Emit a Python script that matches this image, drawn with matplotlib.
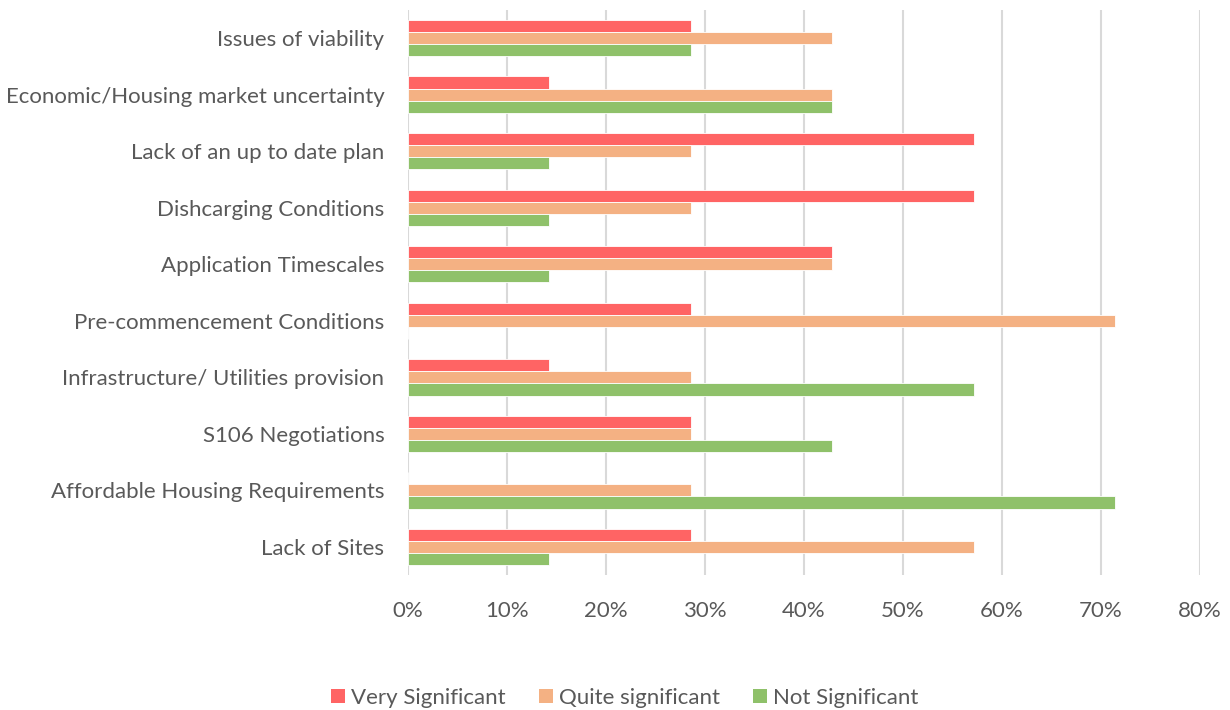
import matplotlib
matplotlib.use("Agg")
import matplotlib.pyplot as plt
import numpy as np
from matplotlib.ticker import PercentFormatter

categories = ["Issues of viability", "Economic/Housing market uncertainty",
              "Lack of an up to date plan", "Dishcarging Conditions",
              "Application Timescales", "Pre-commencement Conditions",
              "Infrastructure/ Utilities provision", "S106 Negotiations",
              "Affordable Housing Requirements", "Lack of Sites"]
very = [28.57, 14.29, 57.14, 57.14, 42.86, 28.57, 14.29, 28.57, 0, 28.57]
quite = [42.86, 42.86, 28.57, 28.57, 42.86, 71.43, 28.57, 28.57, 28.57, 57.14]
notsig = [28.57, 42.86, 14.29, 14.29, 14.29, 0, 57.14, 42.86, 71.43, 14.29]
series_names = ["Very Significant", "Quite significant", "Not Significant"]
colors = ["#FF6464", "#F4B183", "#8FC16A"]

plt.rcParams['font.family'] = ['Lato', 'DejaVu Sans']
grey = "#595959"

fig = plt.figure(figsize=(12.3, 7.1), dpi=100)
ax = fig.add_axes([0.3317, 0.190, 0.644, 0.796])

n = len(categories)
pos = np.arange(n)[::-1]
h = 0.215
for i, (vals, c, name) in enumerate(zip([very, quite, notsig], colors, series_names)):
    ax.barh(pos + (1 - i) * h, vals, height=h, color=c, label=name,
            edgecolor="white", linewidth=0.6, zorder=3)

ax.set_xlim(0, 80)
ax.set_ylim(-0.5, n - 0.5)
ax.set_xticks(np.arange(0, 81, 10))
ax.xaxis.set_major_formatter(PercentFormatter(decimals=0))
ax.set_yticks(pos)
ax.set_yticklabels(categories)
ax.grid(axis="x", color="#D9D9D9", linewidth=1.5, zorder=0)
for s in ax.spines.values():
    s.set_visible(False)
ax.tick_params(axis="y", length=0, pad=17, labelsize=16, labelcolor=grey)
ax.tick_params(axis="x", length=0, pad=19, labelsize=16, labelcolor=grey)

handles = [plt.Rectangle((0, 0), 1, 1, facecolor=c, edgecolor="none") for c in colors]
fig.legend(handles, series_names, loc="center", bbox_to_anchor=(0.508, 0.017), ncol=3,
           frameon=False, fontsize=16, labelcolor=grey, handlelength=0.62,
           handleheight=0.62, columnspacing=1.5, handletextpad=0.28)

fig.savefig("out.png", dpi=100)
